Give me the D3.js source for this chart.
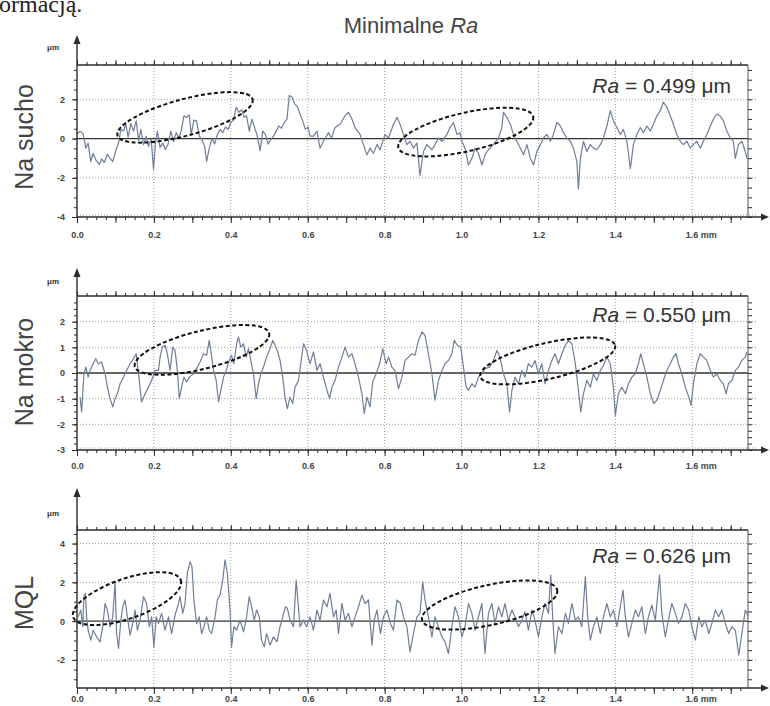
<!DOCTYPE html>
<html>
<head>
<meta charset="utf-8">
<script src="https://cdn.jsdelivr.net/npm/d3@7"></script>
<style>
  body { margin: 0; background: #fff; }
  svg { display: block; font-family: "Liberation Sans", Arial, sans-serif; }
</style>
</head>
<body>
<div id="chart"></div>
<script>
// profile length shown on the x axis (mm)
var xEnd = 1.745;
var xTickValues = [0, 0.2, 0.4, 0.6, 0.8, 1.0, 1.2, 1.4, 1.6];

var panelNames = ["Na sucho", "Na mokro", "MQL"];
var raValues = ["0.499", "0.550", "0.626"];
var yDomains = [[-4, 3.75], [-3, 3], [-3.45, 4.7]];
var yTickValues = [[-4, -2, 0, 2], [-3, -2, -1, 0, 1, 2], [-2, 0, 2, 4]];
var yMinorSteps = [0.5, 0.25, 0.5];

// [x mm, z um]
var profileDry = [
  [0.000,0.21],[0.008,0.38],[0.016,0.24],[0.023,-0.49],[0.029,-0.23],[0.036,-1.18],[0.042,-0.75],[0.049,-1.09],
  [0.058,-1.32],[0.064,-1.04],[0.071,-1.22],[0.079,-0.80],[0.086,-1.01],[0.093,-1.18],[0.100,-0.66],[0.108,-0.23],
  [0.114,0.47],[0.121,0.38],[0.127,0.73],[0.133,0.07],[0.140,0.76],[0.147,0.38],[0.154,0.90],[0.160,-0.10],
  [0.166,0.47],[0.173,-0.31],[0.180,0.12],[0.186,-0.40],[0.193,-0.05],[0.199,-1.56],[0.204,-0.23],[0.209,0.38],
  [0.216,-0.45],[0.223,-0.23],[0.230,-0.57],[0.237,-0.28],[0.244,0.38],[0.251,-0.17],[0.258,0.30],[0.265,0.03],
  [0.271,0.38],[0.278,1.16],[0.285,1.08],[0.292,1.20],[0.297,0.21],[0.304,0.94],[0.311,0.90],[0.318,0.12],
  [0.325,-0.05],[0.332,-0.40],[0.337,-1.18],[0.344,-0.49],[0.351,0.00],[0.358,-0.28],[0.365,0.21],[0.372,0.47],
  [0.379,0.30],[0.386,0.59],[0.393,0.47],[0.400,0.82],[0.407,0.94],[0.414,1.60],[0.421,1.34],[0.428,1.46],
  [0.435,1.08],[0.441,1.16],[0.448,0.38],[0.455,0.99],[0.462,0.56],[0.469,0.12],[0.476,-0.63],[0.483,0.38],
  [0.490,0.21],[0.497,-0.28],[0.504,-0.05],[0.511,0.12],[0.518,0.38],[0.525,0.64],[0.532,0.52],[0.539,0.82],
  [0.546,0.99],[0.552,2.20],[0.559,2.12],[0.566,1.77],[0.573,1.63],[0.580,1.25],[0.587,0.90],[0.594,0.47],
  [0.601,0.59],[0.606,0.12],[0.615,0.12],[0.624,0.38],[0.632,-0.49],[0.641,-0.14],[0.654,0.30],[0.662,0.03],
  [0.671,0.56],[0.684,0.73],[0.697,1.16],[0.706,1.34],[0.715,0.99],[0.723,0.56],[0.736,0.21],[0.745,-0.31],
  [0.754,-0.83],[0.762,-0.49],[0.771,-0.75],[0.780,-0.31],[0.788,-0.57],[0.801,0.21],[0.810,0.03],[0.823,0.73],
  [0.832,1.08],[0.840,0.73],[0.849,0.21],[0.858,-0.31],[0.866,-0.14],[0.875,-0.49],[0.884,-0.23],[0.892,-1.88],
  [0.901,-0.66],[0.910,-0.31],[0.923,-0.57],[0.931,-0.31],[0.940,0.03],[0.949,-0.14],[0.962,0.21],[0.970,0.56],
  [0.979,0.82],[0.988,0.21],[0.996,0.30],[1.001,-0.14],[1.009,-0.49],[1.018,-1.35],[1.027,-1.01],[1.035,-0.49],
  [1.044,-0.75],[1.053,-1.35],[1.061,-0.83],[1.070,-0.57],[1.083,-0.31],[1.096,0.03],[1.105,0.56],[1.109,1.34],
  [1.118,1.08],[1.127,0.73],[1.135,0.21],[1.144,-0.14],[1.153,-0.49],[1.161,-0.83],[1.170,-0.31],[1.179,-1.01],
  [1.187,-1.35],[1.196,-0.66],[1.205,-0.31],[1.213,0.03],[1.222,0.21],[1.231,-0.14],[1.239,0.21],[1.248,0.82],
  [1.257,0.64],[1.265,0.30],[1.274,0.03],[1.283,-0.14],[1.291,-0.49],[1.300,-1.18],[1.304,-2.57],[1.309,-1.01],
  [1.317,-0.14],[1.326,-0.66],[1.335,-0.31],[1.343,-0.49],[1.352,-0.57],[1.361,-0.31],[1.369,0.03],[1.378,0.64],
  [1.387,1.42],[1.395,0.90],[1.404,0.56],[1.413,0.21],[1.421,0.47],[1.430,-0.14],[1.439,-1.53],[1.447,-0.31],
  [1.456,0.21],[1.465,0.56],[1.473,0.30],[1.482,0.64],[1.491,0.38],[1.499,0.73],[1.508,1.16],[1.517,1.42],
  [1.525,1.86],[1.534,1.60],[1.543,1.16],[1.551,0.73],[1.560,0.21],[1.569,-0.14],[1.577,-0.31],[1.586,-0.14],
  [1.595,-0.49],[1.603,-0.31],[1.612,-0.14],[1.621,-0.49],[1.629,-0.14],[1.638,0.21],[1.647,0.64],[1.655,0.99],
  [1.664,1.25],[1.672,1.16],[1.681,0.90],[1.690,0.38],[1.699,0.03],[1.707,-0.14],[1.712,-1.01],[1.720,-0.31],
  [1.729,-0.14],[1.738,-0.66],[1.742,-1.01]
];

var profileWet = [
  [0.008,-0.94],[0.012,-1.52],[0.018,-0.03],[0.023,0.23],[0.029,-0.16],[0.034,0.10],[0.042,0.36],[0.049,0.56],
  [0.055,0.36],[0.064,0.43],[0.073,-0.03],[0.079,-0.55],[0.086,-1.00],[0.093,-1.32],[0.099,-1.00],[0.105,-0.81],
  [0.112,-0.42],[0.121,-0.16],[0.129,0.10],[0.138,0.36],[0.147,0.56],[0.154,0.75],[0.160,-0.03],[0.168,-1.13],
  [0.177,-0.81],[0.186,-0.55],[0.194,-0.29],[0.203,0.10],[0.212,0.10],[0.216,0.62],[0.222,1.01],[0.229,1.08],
  [0.235,0.75],[0.242,0.10],[0.249,1.01],[0.255,0.88],[0.261,0.10],[0.266,-1.00],[0.272,-0.55],[0.278,-0.16],
  [0.285,-0.35],[0.292,-0.16],[0.303,-0.03],[0.313,0.23],[0.320,0.43],[0.329,0.75],[0.337,0.69],[0.344,1.27],
  [0.348,0.88],[0.355,0.10],[0.362,-0.29],[0.368,-1.13],[0.374,-0.68],[0.381,-0.16],[0.388,0.10],[0.396,0.49],
  [0.402,0.69],[0.408,0.36],[0.415,1.14],[0.420,1.40],[0.426,1.01],[0.433,1.14],[0.440,0.62],[0.446,0.95],
  [0.452,0.49],[0.459,-0.03],[0.466,-1.00],[0.472,-0.42],[0.478,-0.03],[0.485,0.23],[0.493,0.62],[0.502,0.95],
  [0.509,1.27],[0.515,1.08],[0.521,0.88],[0.528,0.49],[0.535,-0.16],[0.541,-0.94],[0.547,-1.39],[0.554,-0.94],
  [0.561,-1.19],[0.567,-0.55],[0.576,-0.29],[0.589,1.14],[0.597,0.88],[0.606,0.36],[0.615,0.82],[0.624,0.10],
  [0.632,0.36],[0.641,-0.16],[0.650,-0.68],[0.657,-1.00],[0.663,-0.55],[0.671,-0.29],[0.680,0.23],[0.689,0.62],
  [0.697,1.01],[0.706,0.62],[0.715,0.75],[0.723,0.36],[0.732,-0.16],[0.741,-0.81],[0.747,-1.58],[0.754,-0.94],
  [0.762,-1.32],[0.769,-0.35],[0.778,-0.03],[0.787,0.36],[0.795,0.95],[0.804,0.36],[0.810,0.62],[0.819,0.23],
  [0.827,0.10],[0.836,-0.61],[0.845,-0.16],[0.853,0.49],[0.862,0.62],[0.871,0.75],[0.879,0.69],[0.888,1.27],
  [0.897,1.60],[0.905,1.47],[0.914,0.75],[0.923,-0.03],[0.931,-1.06],[0.940,-0.29],[0.949,0.10],[0.957,0.36],
  [0.966,0.49],[0.975,0.75],[0.981,1.27],[0.989,1.08],[0.998,1.01],[1.005,0.23],[1.012,-0.55],[1.018,-0.68],
  [1.027,-0.42],[1.035,-0.55],[1.044,-0.16],[1.053,-0.03],[1.061,0.17],[1.074,0.23],[1.083,0.49],[1.092,0.88],
  [1.100,0.62],[1.109,-0.03],[1.118,-0.42],[1.125,-1.52],[1.131,-0.68],[1.139,-0.16],[1.148,-0.42],[1.157,0.10],
  [1.165,-0.16],[1.174,0.36],[1.183,0.23],[1.191,0.49],[1.200,-0.03],[1.209,0.36],[1.217,-0.42],[1.226,0.10],
  [1.235,0.49],[1.243,0.75],[1.252,0.36],[1.261,0.75],[1.270,1.08],[1.278,1.27],[1.287,1.14],[1.296,0.36],
  [1.304,-0.68],[1.310,-1.52],[1.317,-0.81],[1.326,-0.29],[1.335,-0.55],[1.343,-0.03],[1.352,-0.29],[1.361,0.10],
  [1.369,0.30],[1.378,0.62],[1.387,0.36],[1.395,-0.55],[1.400,-1.65],[1.408,-0.81],[1.417,-0.55],[1.426,-0.81],
  [1.434,-0.42],[1.443,-0.16],[1.452,-0.03],[1.460,0.36],[1.466,0.75],[1.473,0.36],[1.482,-0.16],[1.491,-0.81],
  [1.500,-1.19],[1.508,-1.06],[1.517,-0.68],[1.525,-0.29],[1.534,0.10],[1.543,0.36],[1.551,0.62],[1.558,0.75],
  [1.564,0.36],[1.573,-0.03],[1.582,-0.55],[1.591,-0.94],[1.597,-1.26],[1.603,-0.42],[1.612,0.36],[1.621,0.75],
  [1.629,0.62],[1.638,0.49],[1.647,0.10],[1.655,-0.16],[1.664,-0.03],[1.673,-0.29],[1.681,-0.42],[1.688,-0.81],
  [1.694,-0.42],[1.703,-0.29],[1.712,0.10],[1.720,0.23],[1.729,0.49],[1.738,0.62],[1.742,0.82]
];

var profileMql = [
  [0.003,0.22],[0.010,0.57],[0.015,-0.29],[0.018,1.26],[0.022,1.43],[0.025,0.22],[0.029,-0.47],[0.036,-0.98],
  [0.042,-0.47],[0.051,-0.81],[0.060,-1.07],[0.067,-0.29],[0.073,0.91],[0.079,0.57],[0.086,-0.29],[0.093,0.22],
  [0.099,2.03],[0.103,-0.64],[0.108,-1.41],[0.114,0.05],[0.119,0.74],[0.125,1.09],[0.131,0.22],[0.138,-0.72],
  [0.145,-0.12],[0.151,0.57],[0.157,-0.47],[0.164,0.05],[0.173,1.26],[0.181,0.91],[0.188,-0.29],[0.194,0.22],
  [0.200,-1.33],[0.206,0.22],[0.212,-0.12],[0.220,0.40],[0.229,-0.47],[0.238,0.22],[0.246,-0.64],[0.255,0.31],
  [0.264,0.91],[0.268,1.26],[0.275,0.40],[0.281,0.91],[0.287,2.47],[0.294,3.07],[0.299,2.81],[0.304,1.09],
  [0.311,-0.12],[0.318,0.22],[0.324,-0.64],[0.330,-0.29],[0.337,0.22],[0.344,-0.47],[0.350,-0.64],[0.359,0.22],
  [0.365,1.09],[0.372,1.34],[0.379,2.12],[0.385,3.16],[0.391,2.47],[0.398,0.57],[0.402,-1.33],[0.408,-0.29],
  [0.415,-0.47],[0.424,0.05],[0.433,-0.55],[0.441,0.22],[0.448,1.26],[0.454,0.74],[0.461,0.05],[0.467,0.57],
  [0.474,0.22],[0.480,-0.98],[0.487,-1.33],[0.493,-0.64],[0.502,-1.24],[0.511,-0.81],[0.520,-1.07],[0.528,-0.29],
  [0.535,0.22],[0.542,0.74],[0.547,0.66],[0.554,0.05],[0.563,-0.29],[0.570,2.12],[0.580,-0.29],[0.589,0.05],
  [0.597,-0.29],[0.606,0.22],[0.615,-0.47],[0.624,0.57],[0.632,0.05],[0.641,1.09],[0.650,0.74],[0.658,1.43],
  [0.667,0.22],[0.674,0.57],[0.680,-0.64],[0.689,0.91],[0.697,0.05],[0.706,0.40],[0.715,-0.29],[0.723,0.22],
  [0.732,0.74],[0.741,1.34],[0.749,0.91],[0.758,1.09],[0.767,-1.24],[0.773,0.05],[0.780,0.57],[0.789,-0.64],
  [0.797,0.22],[0.806,0.57],[0.815,-0.12],[0.823,-0.47],[0.832,1.09],[0.841,0.91],[0.849,0.22],[0.858,-0.29],
  [0.866,-1.59],[0.875,-0.64],[0.884,0.22],[0.892,0.40],[0.899,2.03],[0.905,1.09],[0.914,0.22],[0.923,-0.81],
  [0.931,0.22],[0.940,-0.29],[0.949,-0.81],[0.957,-1.07],[0.966,-1.67],[0.975,-0.29],[0.983,0.74],[0.992,0.22],
  [1.001,-0.81],[1.009,-0.29],[1.018,0.91],[1.027,0.40],[1.035,-0.47],[1.044,0.22],[1.053,0.91],[1.061,-1.67],
  [1.070,0.40],[1.079,0.91],[1.087,-0.12],[1.096,0.74],[1.105,0.22],[1.113,0.91],[1.122,0.05],[1.131,0.57],
  [1.139,0.22],[1.148,-0.29],[1.157,0.05],[1.165,0.48],[1.174,-0.47],[1.183,0.57],[1.191,0.05],[1.200,-0.81],
  [1.209,0.22],[1.217,0.91],[1.226,0.40],[1.232,2.38],[1.237,0.22],[1.243,-1.67],[1.252,-0.29],[1.261,-0.64],
  [1.270,0.40],[1.278,-0.12],[1.287,0.91],[1.296,0.05],[1.304,0.22],[1.313,-0.29],[1.322,2.29],[1.328,0.22],
  [1.335,-0.98],[1.343,-0.29],[1.352,0.22],[1.361,-0.64],[1.369,0.22],[1.378,0.91],[1.387,0.22],[1.395,0.57],
  [1.404,-0.29],[1.413,0.74],[1.420,1.60],[1.426,0.22],[1.434,-0.81],[1.443,-0.12],[1.452,0.57],[1.460,0.22],
  [1.469,0.74],[1.478,-0.64],[1.486,0.22],[1.495,0.83],[1.504,0.05],[1.515,2.38],[1.521,0.40],[1.530,-0.81],
  [1.538,0.05],[1.547,0.91],[1.556,0.40],[1.564,-0.12],[1.573,0.22],[1.582,0.91],[1.591,0.57],[1.599,-0.29],
  [1.608,-0.98],[1.617,0.22],[1.625,-0.29],[1.634,0.05],[1.643,-0.64],[1.651,-0.12],[1.660,0.57],[1.669,0.22],
  [1.677,0.57],[1.686,-0.12],[1.695,-0.64],[1.703,-0.29],[1.712,-0.47],[1.721,-1.76],[1.729,-0.64],[1.738,0.57],
  [1.747,0.22]
];

// dashed ellipses: centre [mm, um], half length (mm), half width (um), tilt (deg)
var ellipsesDry = [[0.281, 1.08, 0.182, 0.93, -15], [1.011, 0.33, 0.180, 0.98, -13]];
var ellipsesWet = [[0.325, 0.90, 0.180, 0.74, -14], [1.224, 0.47, 0.180, 0.70, -13]];
var ellipsesMql = [[0.130, 1.16, 0.148, 1.03, -19], [1.073, 0.83, 0.180, 1.03, -12.5]];

var profiles = [profileDry, profileWet, profileMql];
var ellipses = [ellipsesDry, ellipsesWet, ellipsesMql];

// layout of each panel on the page
var svgWidth = 770, svgHeight = 706;
var plotLeft = 77, plotRight = 748, arrowEnd = 769;
var layout = [
  { top: 65,  bottom: 217, arrowTip: 35,  unitY: 50,  labelY: 238, raY: 93,  nameY: 137 },
  { top: 296, bottom: 450, arrowTip: 268, unitY: 284, labelY: 469, raY: 322, nameY: 372 },
  { top: 530, bottom: 688, arrowTip: 488, unitY: 516, labelY: 702, raY: 563, nameY: 603 }
];

var lineColor = "#6f7e98";
var axisColor = "#2b2b2b";
var textColor = "#444";

var svg = d3.select("#chart").append("svg")
  .attr("width", svgWidth)
  .attr("height", svgHeight);

// text cut off at the top of the page, as in the source scan
svg.append("text")
  .attr("x", -9).attr("y", 12)
  .style("font-family", "'Liberation Serif', 'Times New Roman', serif")
  .style("font-size", "24px")
  .style("fill", "#222")
  .text("formacją.");

var title = svg.append("text")
  .attr("x", 411).attr("y", 33)
  .attr("text-anchor", "middle")
  .style("font-size", "22px")
  .style("fill", textColor);
title.append("tspan").text("Minimalne ");
title.append("tspan").style("font-style", "italic").text("Ra");

var xScale = d3.scaleLinear().domain([0, xEnd]).range([plotLeft, plotRight]);

var defs = svg.append("defs");

function styleAxis(g) {
  g.select(".domain").remove();
  g.selectAll(".tick line").attr("stroke", axisColor).attr("stroke-width", 1);
}

layout.forEach(function (box, i) {
  var yScale = d3.scaleLinear().domain(yDomains[i]).range([box.bottom, box.top]);
  var g = svg.append("g");

  defs.append("clipPath").attr("id", "clip" + i)
    .append("rect")
    .attr("x", plotLeft).attr("y", box.top)
    .attr("width", plotRight - plotLeft).attr("height", box.bottom - box.top);

  // dotted grid
  var grid = g.append("g")
    .attr("stroke", "#9a9a9a")
    .attr("stroke-width", 1)
    .attr("stroke-dasharray", "1,2");
  grid.selectAll(".vgrid")
    .data(xTickValues.filter(function (d) { return d > 0; }))
    .enter().append("line")
    .attr("x1", function (d) { return xScale(d); })
    .attr("x2", function (d) { return xScale(d); })
    .attr("y1", box.top).attr("y2", box.bottom);
  grid.selectAll(".hgrid")
    .data(yTickValues[i].filter(function (d) { return d !== 0; }))
    .enter().append("line")
    .attr("x1", plotLeft).attr("x2", plotRight + 8)
    .attr("y1", function (d) { return yScale(d) - (d === yDomains[i][0] ? 2 : 0); })
    .attr("y2", function (d) { return yScale(d) - (d === yDomains[i][0] ? 2 : 0); });

  // zero line
  g.append("line")
    .attr("x1", plotLeft).attr("x2", plotRight)
    .attr("y1", yScale(0)).attr("y2", yScale(0))
    .attr("stroke", "#333").attr("stroke-width", 1.3);

  // profile trace
  var line = d3.line()
    .x(function (d) { return xScale(d[0]); })
    .y(function (d) { return yScale(d[1]); });
  g.append("path")
    .datum(profiles[i])
    .attr("clip-path", "url(#clip" + i + ")")
    .attr("d", line)
    .attr("fill", "none")
    .attr("stroke", lineColor)
    .attr("stroke-width", 1.2)
    .attr("stroke-linejoin", "round");

  // frame: top and right
  g.append("line")
    .attr("x1", plotLeft).attr("x2", plotRight)
    .attr("y1", box.top).attr("y2", box.top)
    .attr("stroke", axisColor).attr("stroke-width", 1.3);
  g.append("line")
    .attr("x1", plotRight).attr("x2", plotRight)
    .attr("y1", box.top).attr("y2", box.bottom)
    .attr("stroke", "#555").attr("stroke-width", 1);

  // minor ticks on the frame
  var minorX = d3.range(0, xEnd, 0.025);
  var majorX = d3.range(0, xEnd, 0.1);
  g.append("g").attr("transform", "translate(0," + box.top + ")")
    .call(d3.axisTop(xScale).tickValues(minorX).tickSize(3).tickFormat(""))
    .call(styleAxis);
  g.append("g").attr("transform", "translate(0," + box.top + ")")
    .call(d3.axisTop(xScale).tickValues(majorX).tickSize(5).tickFormat(""))
    .call(styleAxis);
  g.append("g").attr("transform", "translate(0," + box.bottom + ")")
    .call(d3.axisBottom(xScale).tickValues(minorX).tickSize(3).tickFormat(""))
    .call(styleAxis);
  g.append("g").attr("transform", "translate(0," + box.bottom + ")")
    .call(d3.axisBottom(xScale).tickValues(majorX).tickSize(6).tickFormat(""))
    .call(styleAxis);

  var minorY = d3.range(Math.ceil(yDomains[i][0] / yMinorSteps[i]) * yMinorSteps[i], yDomains[i][1], yMinorSteps[i]);
  g.append("g").attr("transform", "translate(" + plotLeft + ",0)")
    .call(d3.axisLeft(yScale).tickValues(minorY).tickSize(3).tickFormat(""))
    .call(styleAxis);
  g.append("g").attr("transform", "translate(" + plotRight + ",0)")
    .call(d3.axisRight(yScale).tickValues(minorY).tickSize(4).tickFormat(""))
    .call(styleAxis);

  // y labels
  var yAxis = g.append("g").attr("transform", "translate(" + plotLeft + ",0)")
    .call(d3.axisLeft(yScale).tickValues(yTickValues[i]).tickSize(5).tickPadding(7)
      .tickFormat(function (d) { return d; }))
    .call(styleAxis);
  yAxis.selectAll("text")
    .style("font-size", "9px").style("font-weight", "bold").style("fill", "#444");

  // x labels
  var xAxis = g.append("g").attr("transform", "translate(0," + box.bottom + ")")
    .call(d3.axisBottom(xScale).tickValues(xTickValues).tickSize(0).tickPadding(0)
      .tickFormat(function (d) { return d === 1.6 ? "1.6 mm" : d.toFixed(1); }))
    .call(styleAxis);
  xAxis.selectAll("text")
    .attr("y", box.labelY - box.bottom).attr("dy", 0)
    .style("font-size", "9px").style("font-weight", "bold").style("fill", "#444")
    .filter(function (d) { return d === 1.6; })
    .attr("text-anchor", "start").attr("x", -7);

  // bottom axis with arrow
  g.append("line")
    .attr("x1", plotLeft).attr("x2", arrowEnd - 4)
    .attr("y1", box.bottom).attr("y2", box.bottom)
    .attr("stroke", axisColor).attr("stroke-width", 1.4);
  g.append("path")
    .attr("d", "M" + arrowEnd + "," + box.bottom + "l-8,-3.5v7z")
    .attr("fill", axisColor);

  // left axis with arrow
  g.append("line")
    .attr("x1", plotLeft).attr("x2", plotLeft)
    .attr("y1", box.bottom).attr("y2", box.arrowTip + 4)
    .attr("stroke", axisColor).attr("stroke-width", 1.4);
  g.append("path")
    .attr("d", "M" + plotLeft + "," + box.arrowTip + "l-3.5,9h7z")
    .attr("fill", axisColor);
  g.append("text")
    .attr("x", 53).attr("y", box.unitY)
    .attr("text-anchor", "middle")
    .style("font-size", "8px").style("font-weight", "bold").style("fill", "#333")
    .text("μm");

  // dashed ellipses
  g.selectAll(".ell")
    .data(ellipses[i])
    .enter().append("ellipse")
    .attr("transform", function (d) {
      return "translate(" + xScale(d[0]) + "," + yScale(d[1]) + ") rotate(" + d[4] + ")";
    })
    .attr("rx", function (d) { return xScale(d[2]) - xScale(0); })
    .attr("ry", function (d) { return yScale(0) - yScale(d[3]); })
    .attr("fill", "none")
    .attr("stroke", "#111")
    .attr("stroke-width", 2)
    .attr("stroke-dasharray", "4,2.5");

  // Ra value
  var ra = g.append("text")
    .attr("x", 731).attr("y", box.raY)
    .attr("text-anchor", "end")
    .style("font-size", "21px")
    .style("fill", "#333");
  ra.append("tspan").style("font-style", "italic").text("Ra");
  ra.append("tspan").text(" = " + raValues[i] + " μm");

  // panel name
  svg.append("text")
    .attr("transform", "translate(33," + box.nameY + ") rotate(-90)")
    .attr("text-anchor", "middle")
    .style("font-size", "25px")
    .style("fill", textColor)
    .text(panelNames[i]);
});
</script>
</body>
</html>
